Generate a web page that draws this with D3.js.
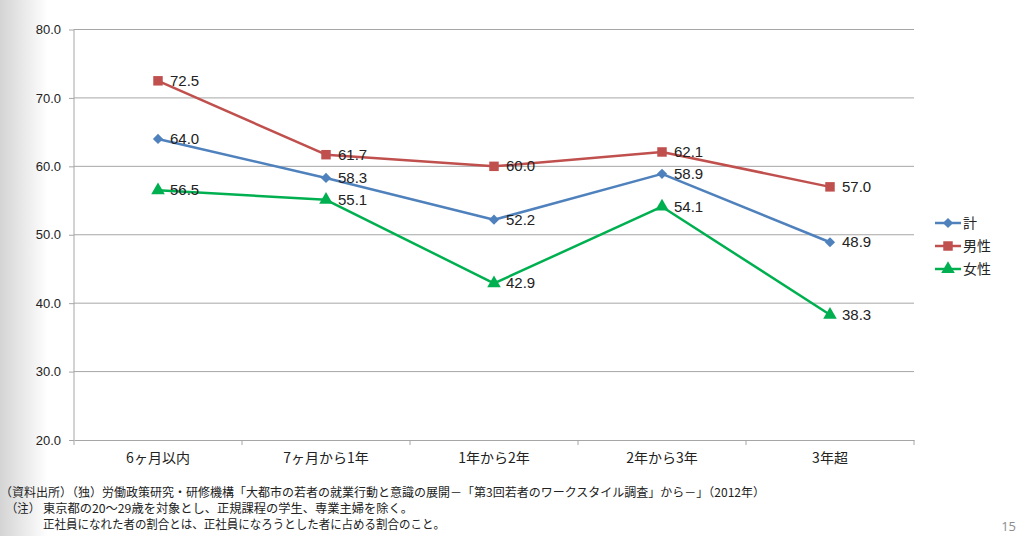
<!DOCTYPE html>
<html><head><meta charset="utf-8">
<script src="https://cdn.jsdelivr.net/npm/d3@7"></script>
<style>body{margin:0;background:#fff;}svg{display:block;}</style>
</head><body>
<script>
const categories = ["6ヶ月以内","7ヶ月から1年","1年から2年","2年から3年","3年超"];
const seriesNames = ["計","男性","女性"];
const totalValues = [64.0,58.3,52.2,58.9,48.9];
const maleValues = [72.5,61.7,60.0,62.1,57.0];
const femaleValues = [56.5,55.1,42.9,54.1,38.3];
const yTicks = [20,30,40,50,60,70,80];
const footerLines = [
 "（資料出所）（独）労働政策研究・研修機構「大都市の若者の就業行動と意識の展開－「第3回若者のワークスタイル調査」から－」（2012年）",
 "（注）",
 "東京都の20～29歳を対象とし、正規課程の学生、専業主婦を除く。",
 "正社員になれた者の割合とは、正社員になろうとした者に占める割合のこと。"
];
const pageNumber = "15";

const series = [
 {name:seriesNames[0], values:totalValues, color:"#4F81BD", symbol:d3.symbolSquare, size:52, rot:45},
 {name:seriesNames[1], values:maleValues, color:"#C0504D", symbol:d3.symbolSquare, size:90, rot:0},
 {name:seriesNames[2], values:femaleValues, color:"#00B050", symbol:d3.symbolTriangle, size:80, rot:0}
];

const W=1024,H=536;
const svg=d3.select("body").append("svg").attr("width",W).attr("height",H);
const defs=svg.append("defs");
const g=defs.append("linearGradient").attr("id","lg").attr("x1",0).attr("x2",1).attr("y1",0).attr("y2",0);
g.append("stop").attr("offset",0).attr("stop-color","#d4d4d4");
g.append("stop").attr("offset",1).attr("stop-color","#ffffff");
svg.append("rect").attr("width",W).attr("height",H).attr("fill","#fff");
svg.append("rect").attr("width",48).attr("height",H).attr("fill","url(#lg)");

const pLeft=74,pRight=914,pTop=29.5,pBottom=440;
const x=d3.scaleBand().domain(categories).range([pLeft,pRight]);
const y=d3.scaleLinear().domain([20,80]).range([pBottom,pTop]);
const fontNum="'Liberation Sans', Arial, sans-serif";
const fontJP="'Noto Sans CJK JP', sans-serif";

// gridlines
svg.append("g").selectAll("line").data(yTicks.filter(t=>t>20)).join("line")
 .attr("x1",pLeft).attr("x2",pRight).attr("y1",d=>y(d)).attr("y2",d=>y(d))
 .attr("stroke","#a6a6a6").attr("stroke-width",1);

// y axis
const ya=svg.append("g").attr("transform",`translate(${pLeft},0)`)
 .call(d3.axisLeft(y).tickValues(yTicks).tickFormat(d3.format(".1f")).tickSize(5).tickPadding(8));
ya.select(".domain").attr("stroke","#a6a6a6").attr("d",`M0,${pTop}V${pBottom}`);
ya.selectAll(".tick line").attr("stroke","#a6a6a6");
ya.selectAll(".tick text").attr("font-family",fontNum).attr("font-size",13).attr("fill","#222");

// x axis
const xa=svg.append("g").attr("transform",`translate(0,${pBottom})`)
 .call(d3.axisBottom(x).tickSize(0).tickPadding(13));
xa.select(".domain").attr("stroke","#a6a6a6");
xa.selectAll(".tick text").attr("font-family",fontJP).attr("font-size",14).attr("fill","#222");
// boundary ticks
svg.append("g").selectAll("line").data(d3.range(categories.length+1)).join("line")
 .attr("x1",i=>pLeft+i*x.bandwidth()).attr("x2",i=>pLeft+i*x.bandwidth())
 .attr("y1",pBottom).attr("y2",pBottom+5).attr("stroke","#a6a6a6");

const cx=c=>x(c)+x.bandwidth()/2;
const line=d3.line().x((d,i)=>cx(categories[i])).y(d=>y(d));

series.forEach(s=>{
 const gg=svg.append("g");
 gg.append("path").datum(s.values).attr("d",line).attr("fill","none")
  .attr("stroke",s.color).attr("stroke-width",2.5).attr("stroke-linejoin","round");
 gg.selectAll("path.m").data(s.values).join("path").attr("class","m")
  .attr("d",d3.symbol().type(s.symbol).size(s.size))
  .attr("transform",(d,i)=>`translate(${cx(categories[i])},${y(d)}) rotate(${s.rot})`)
  .attr("fill",s.color);
 gg.selectAll("text").data(s.values).join("text")
  .attr("x",(d,i)=>cx(categories[i])+12).attr("y",d=>y(d)+1)
  .attr("dominant-baseline","middle")
  .attr("font-family",fontNum).attr("font-size",15).attr("fill","#222")
  .text(d=>d.toFixed(1));
});

// legend
const lg=svg.append("g");
series.forEach((s,i)=>{
 const ly=223+i*23;
 lg.append("line").attr("x1",935).attr("x2",961).attr("y1",ly).attr("y2",ly)
  .attr("stroke",s.color).attr("stroke-width",2.5);
 lg.append("path").attr("d",d3.symbol().type(s.symbol).size(s.size)).attr("transform",`translate(948,${ly}) rotate(${s.rot})`).attr("fill",s.color);
 lg.append("text").attr("x",963).attr("y",ly+1).attr("dominant-baseline","middle")
  .attr("font-family",fontJP).attr("font-size",14).attr("fill","#222").text(s.name);
});

// footer
const fx=[0,6,43,43], fy=[497,513,513,529], fw=[765,34,370,402];
footerLines.forEach((t,i)=>{
 svg.append("text").attr("x",fx[i]).attr("y",fy[i]).attr("font-family",fontJP)
  .attr("font-size",12).attr("fill","#222")
  .attr("textLength",fw[i]).attr("lengthAdjust","spacingAndGlyphs").text(t);
});
svg.append("text").attr("x",1016).attr("y",531).attr("text-anchor","end")
 .attr("font-family","'Open Sans', sans-serif").attr("font-size",13).attr("fill","#8c8c8c").text(pageNumber);
</script>
</body></html>
